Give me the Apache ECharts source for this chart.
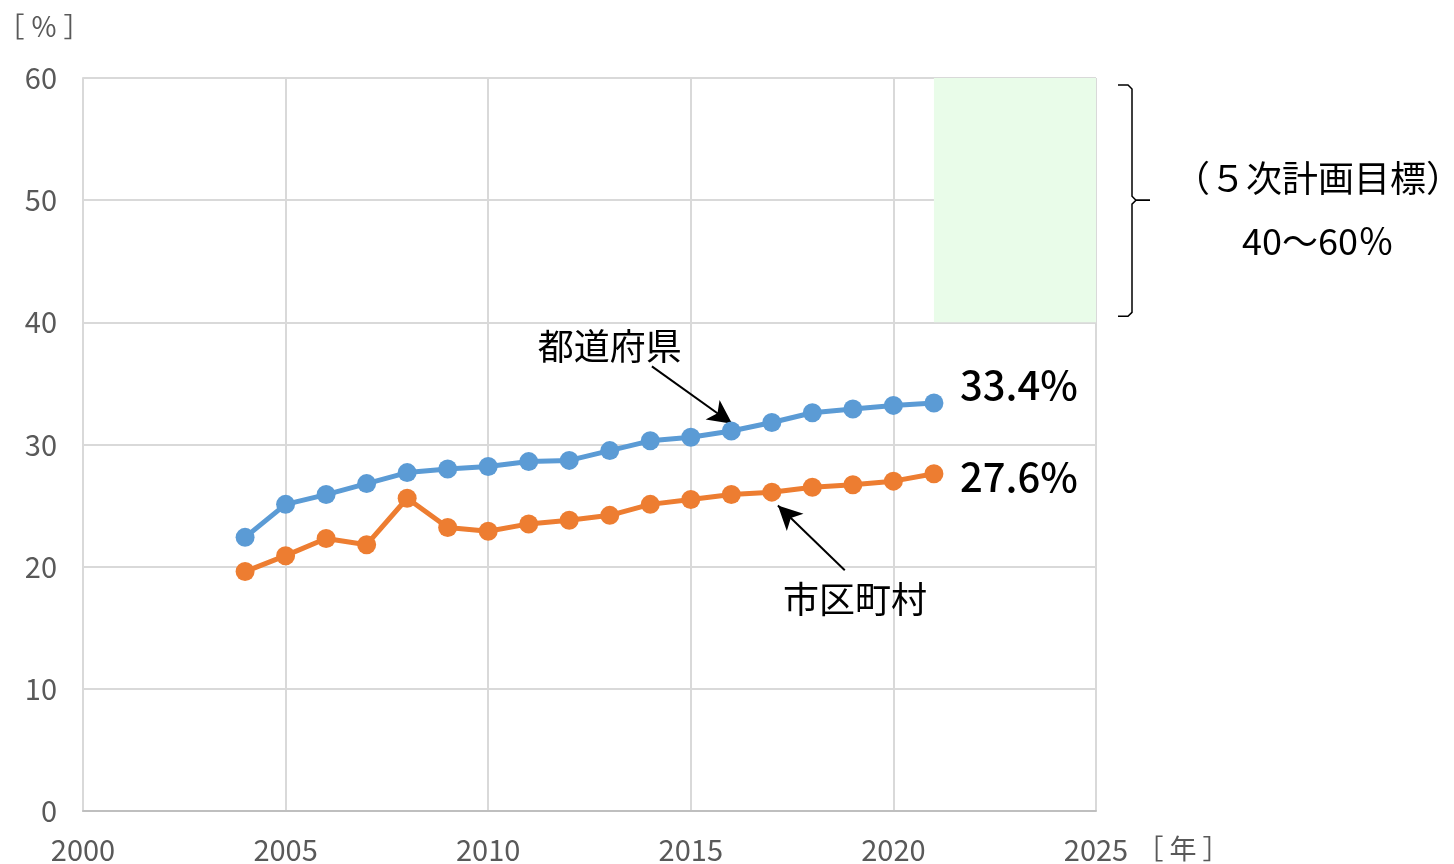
<!DOCTYPE html>
<html><head><meta charset="utf-8">
<script src="https://cdn.jsdelivr.net/npm/echarts@6/dist/echarts.min.js"></script>
<style>html,body{margin:0;padding:0;background:#fff}#c{width:1454px;height:864px}</style>
</head><body><div id="c"></div>
<script>
const years = [2004,2005,2006,2007,2008,2009,2010,2011,2012,2013,2014,2015,2016,2017,2018,2019,2020,2021];
const prefectures = [22.4,25.1,25.9,26.8,27.7,28.0,28.2,28.6,28.7,29.5,30.3,30.6,31.1,31.8,32.6,32.9,33.2,33.4];
const municipalities = [19.6,20.9,22.3,21.8,25.6,23.2,22.9,23.5,23.8,24.2,25.1,25.5,25.9,26.1,26.5,26.7,27.0,27.6];
const targetRange = [40, 60];
const targetYears = [2021, 2025];
const xTicks = [2000, 2025, 5];
const yTicks = [0, 60, 10];

const FONT = '"Noto Sans CJK JP", "Noto Sans", sans-serif';
const chart = echarts.init(document.getElementById('c'));
const pair = (xs, ys) => xs.map((x, i) => [x, ys[i]]);

chart.setOption({
  animation: false,
  grid: {left: 83, right: 358, top: 78, bottom: 53, containLabel: false},
  xAxis: {
    type: 'value', min: xTicks[0], max: xTicks[1], interval: xTicks[2],
    axisLine: {show: true, lineStyle: {color: '#bfbfbf', width: 2}},
    axisTick: {show: false},
    splitLine: {show: true, lineStyle: {color: '#d9d9d9', width: 2}},
    axisLabel: {color: '#595959', fontSize: 29, fontFamily: FONT, margin: 24, formatter: v => String(v)}
  },
  yAxis: {
    type: 'value', min: yTicks[0], max: yTicks[1], interval: yTicks[2],
    axisLine: {show: true, lineStyle: {color: '#d9d9d9', width: 2}},
    axisTick: {show: false},
    splitLine: {show: true, lineStyle: {color: '#d9d9d9', width: 2}},
    axisLabel: {color: '#595959', fontSize: 29, fontFamily: FONT, margin: 26, formatter: v => String(v)}
  },
  series: [
    {
      type: 'line', name: '目標', data: [], silent: true,
      markArea: {silent: true, itemStyle: {color: '#e9fce9'},
        data: [[{coord: [targetYears[0], targetRange[0]]}, {coord: [targetYears[1], targetRange[1]]}]]}
    },
    {
      type: 'line', name: '都道府県', data: pair(years, prefectures),
      symbol: 'circle', symbolSize: 19, z: 5,
      lineStyle: {color: '#5b9bd5', width: 5}, itemStyle: {color: '#5b9bd5'},
      markLine: {silent: true, symbol: ['none', 'arrow'], symbolSize: [18, 24],
        lineStyle: {color: '#000', width: 2, type: 'solid'}, label: {show: false},
        data: [[{coord: [2014.04, 36.4]}, {coord: [2016.02, 31.7]}]]}
    },
    {
      type: 'line', name: '市区町村', data: pair(years, municipalities),
      symbol: 'circle', symbolSize: 19, z: 5,
      lineStyle: {color: '#ed7d31', width: 5}, itemStyle: {color: '#ed7d31'},
      markLine: {silent: true, symbol: ['none', 'arrow'], symbolSize: [18, 24],
        lineStyle: {color: '#000', width: 2, type: 'solid'}, label: {show: false},
        data: [[{coord: [2018.8, 19.7]}, {coord: [2017.15, 25.0]}]]}
    }
  ]
});

const px = (x, y) => chart.convertToPixel({gridIndex: 0}, [x, y]);
const p40 = px(2025, 40), p60 = px(2025, 60), p50 = px(2025, 50);
const bx = p40[0] + 22;
const lastP = px(2021, prefectures[prefectures.length - 1]);
const lastM = px(2021, municipalities[municipalities.length - 1]);
const pLab = px(2013.0, 38.0);
const mLab = px(2019.05, 17.3);
const txt = (x, y, s, size, extra) => ({type: 'text', x: x, y: y, z: 10,
  style: Object.assign({text: s, fill: '#000', fontSize: size, fontFamily: FONT, textAlign: 'center', textVerticalAlign: 'middle'}, extra || {})});

chart.setOption({graphic: [
  {type: 'polyline', z: 10, shape: {points: [
    [bx, p60[1]+7], [bx+10, p60[1]+7], [bx+14, p60[1]+11], [bx+14, p50[1]-4], [bx+18, p50[1]], [bx+32, p50[1]]]},
    style: {stroke: '#000', lineWidth: 1.5, fill: null}},
  {type: 'polyline', z: 10, shape: {points: [
    [bx+32, p50[1]], [bx+18, p50[1]], [bx+14, p50[1]+4], [bx+14, p40[1]-10], [bx+10, p40[1]-6], [bx, p40[1]-6]]},
    style: {stroke: '#000', lineWidth: 1.5, fill: null}},
  txt(1318, 178, '（５次計画目標）', 36),
  txt(1318, 241, '40～60％', 36),
  txt(lastP[0] + 85, lastP[1] - 18, '33.4%', 40, {fontWeight: 500}),
  txt(lastM[0] + 85, lastM[1] + 3, '27.6%', 40, {fontWeight: 500}),
  txt(pLab[0], pLab[1], '都道府県', 36),
  txt(mLab[0], mLab[1], '市区町村', 36),
  txt(44, 27, '［ ％ ］', 27, {fill: '#595959'}),
  txt(1183, 849, '［ 年 ］', 27, {fill: '#595959'})
]});
</script></body></html>
